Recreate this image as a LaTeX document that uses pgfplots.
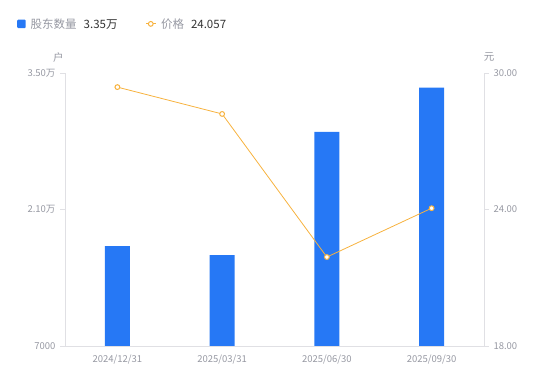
\documentclass[border=0pt]{standalone}
\usepackage{pgfplots}
\pgfplotsset{compat=1.18}
\usepackage{fontspec}
\setmainfont{Noto Sans CJK SC}
\definecolor{barblue}{RGB}{38,120,245}
\definecolor{lineorange}{RGB}{247,178,62}
\definecolor{axisgrey}{RGB}{224,224,228}
\definecolor{tickgrey}{RGB}{150,152,162}
\definecolor{legtext}{RGB}{51,51,51}
\begin{document}
\begin{tikzpicture}
\useasboundingbox (0pt,0pt) rectangle (550pt,381pt);
\begin{axis}[
  name=main,
  at={(65pt,35pt)}, anchor=south west, scale only axis,
  width=419pt, height=273pt,
  xmin=-0.5, xmax=3.5, ymin=7000, ymax=35000,
  scaled y ticks=false,
  axis y line*=left, axis x line*=bottom,
  axis line style={draw=axisgrey, line width=0.8pt},
  xtick={0,1,2,3},
  xticklabels={2024/12/31,2025/03/31,2025/06/30,2025/09/30},
  x tick style={draw=none},
  ytick={7000,21000,35000},
  yticklabels={7000,2.10万,3.50万},
  y tick style={draw=axisgrey, line width=0.8pt},
  tick align=outside, major tick length=5pt,
  tick label style={font=\fontsize{9.5}{10}\selectfont, text=tickgrey},
  /pgf/number format/assume math mode=true,
  xticklabel style={yshift=0pt},
  yticklabel style={xshift=-1pt},
  ylabel={户},
  ylabel style={at={(rel axis cs:-0.016,1.058)}, anchor=center, rotate=-90, font=\fontsize{10.5}{11}\selectfont, text=tickgrey},
  legend style={at={(rel axis cs:-0.1146,1.179)}, anchor=west, draw=none, fill=none,
    inner sep=0pt, font=\fontsize{11.5}{12}\selectfont, legend columns=2,
    nodes={inner xsep=5pt},
    /tikz/every even column/.append style={column sep=23pt}},
  legend cell align=left,
]
\addplot[ybar, bar width=25pt, fill=barblue, draw=none,
  legend image code/.code={\fill[barblue, rounded corners=1pt] (0pt,-4pt) rectangle (8.5pt,4.5pt);}]
  coordinates {(0,17250) (1,16330) (2,28950) (3,33500)};
\addlegendentry{\textcolor{tickgrey}{股东数量}\hspace{7pt}\textcolor{legtext}{3.35万}}
\addlegendimage{legend image code/.code={\draw[lineorange, line width=1pt] (0pt,0.25pt) -- (9.5pt,0.25pt); \draw[lineorange, fill=white, line width=1pt] (4.75pt,0.25pt) circle (2.4pt);}}
\addlegendentry{\textcolor{tickgrey}{价格}\hspace{7pt}\textcolor{legtext}{24.057}}
\end{axis}
\begin{axis}[
  at={(main.south west)}, anchor=south west, scale only axis,
  width=419pt, height=273pt,
  xmin=-0.5, xmax=3.5, ymin=18, ymax=30,
  axis y line*=right, axis x line*=bottom,
  x axis line style={draw=none}, xtick=\empty,
  y axis line style={draw=axisgrey, line width=0.8pt},
  ytick={18,24,30},
  yticklabels={18.00,24.00,30.00},
  y tick style={draw=axisgrey, line width=0.8pt},
  tick align=outside, major tick length=5pt,
  tick label style={font=\fontsize{9.5}{10}\selectfont, text=tickgrey},
  /pgf/number format/assume math mode=true,
  yticklabel style={xshift=1pt},
  ylabel={元},
  ylabel style={at={(rel axis cs:1.012,1.058)}, anchor=center, rotate=-90, font=\fontsize{10.5}{11}\selectfont, text=tickgrey},
]
\addplot[lineorange, line width=0.8pt, mark=*, mark size=2.4pt,
  mark options={fill=white, draw=lineorange, line width=1pt}]
  coordinates {(0,29.38) (1,28.20) (2,21.91) (3,24.057)};
\end{axis}
\end{tikzpicture}
\end{document}
